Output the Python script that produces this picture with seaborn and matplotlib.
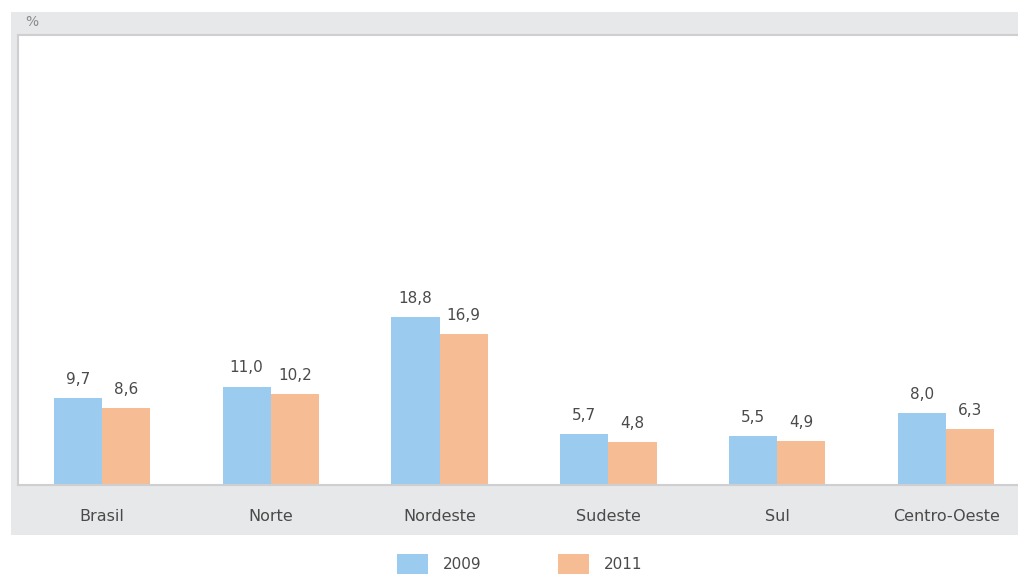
import matplotlib
matplotlib.use('Agg')
import seaborn as sns
import matplotlib.pyplot as plt
import pandas as pd
from matplotlib.patches import Rectangle

regioes = ['Brasil', 'Norte', 'Nordeste', 'Sudeste', 'Sul', 'Centro-Oeste']
v2009 = [9.7, 11.0, 18.8, 5.7, 5.5, 8.0]
v2011 = [8.6, 10.2, 16.9, 4.8, 4.9, 6.3]
anos = ['2009', '2011']

df = pd.DataFrame({
    'regiao': regioes * 2,
    'valor': v2009 + v2011,
    'ano': [anos[0]] * len(regioes) + [anos[1]] * len(regioes),
})

cores = {'2009': '#9BCBEE', '2011': '#F6BD94'}
txt = '#4a4a4a'
cinza = '#E7E8EA'

plt.rcParams['font.family'] = ['DejaVu Sans']

fig = plt.figure(figsize=(10.18, 5.75), dpi=100)
W, H = 1018, 575

# moldura cinza (atras dos eixos)
fig.patches.append(Rectangle((11 / W, (H - 535) / H), (W - 11) / W, 523 / H,
                             transform=fig.transFigure, facecolor=cinza,
                             edgecolor='none', zorder=-10))

ax = fig.add_axes([18 / W, (H - 485) / H, (W - 18) / W, 450 / H])
ax.set_facecolor('white')
ax.set_zorder(1)

sns.barplot(data=df, x='regiao', y='valor', hue='ano', palette=cores,
            width=0.57, gap=0, saturation=1, ax=ax, legend=True)

for c in ax.containers:
    ax.bar_label(c, labels=[f'{v:.1f}'.replace('.', ',') for v in c.datavalues],
                 padding=8, fontsize=11, color=txt)

ax.set_ylim(0, 50.3)
ax.set_xlim(-0.497, 5.426)
ax.set_yticks([])
ax.set_xlabel('')
ax.set_ylabel('')
ax.tick_params(axis='x', length=0, pad=17, labelsize=11.5, labelcolor=txt)
for s in ['left', 'top', 'bottom']:
    ax.spines[s].set_color('#CFCFD1')
    ax.spines[s].set_linewidth(1.5)
ax.spines['right'].set_visible(False)

fig.text(25 / W, 1 - 22 / H, '%', fontsize=10, color='#8a8a8a',
         va='center', ha='left')

handles, labels = ax.get_legend_handles_labels()
ax.legend_.remove()
fig.legend(handles, labels, loc='center', bbox_to_anchor=(520 / W, (H - 564) / H),
           ncol=2, frameon=False, fontsize=11, handlelength=2.0,
           handleheight=1.7, handletextpad=1.0, columnspacing=5.0,
           labelcolor=txt)

fig.savefig('out.png', dpi=100)
